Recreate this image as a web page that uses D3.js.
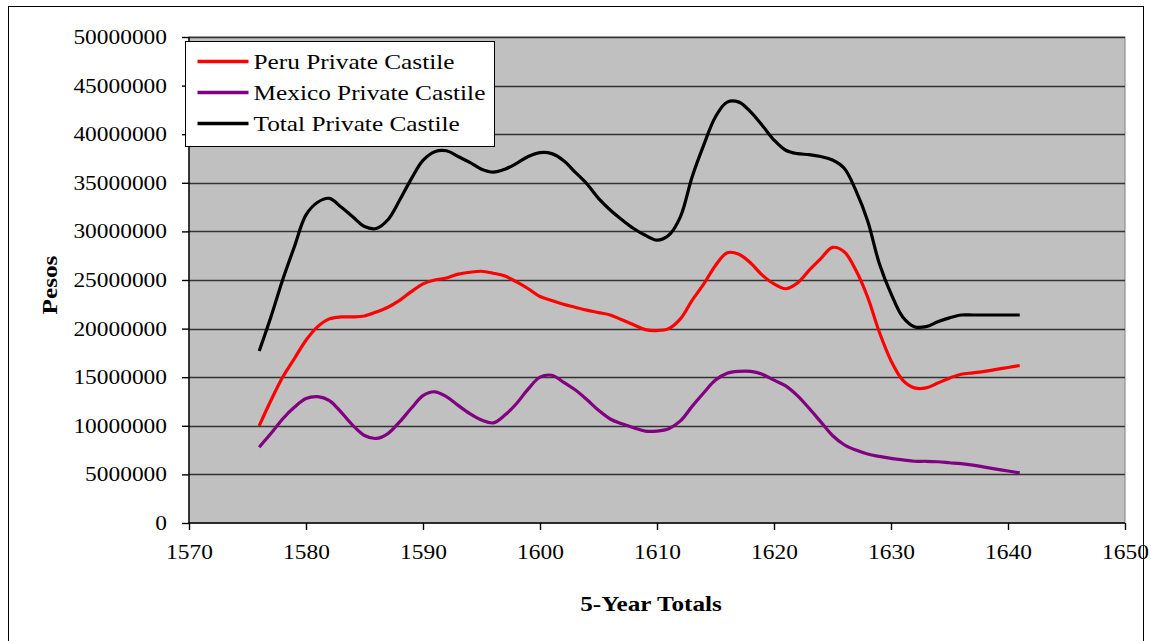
<!DOCTYPE html>
<html>
<head>
<meta charset="utf-8">
<script src="https://cdn.jsdelivr.net/npm/d3@7"></script>
<style>
  body { margin: 0; background: #fff; }
  svg text { font-family: "Liberation Serif", "Times New Roman", serif; }
</style>
</head>
<body>
<div class="chart"></div>
<script>
// 5-year totals, one point per year
var years = [1576, 1577, 1578, 1579, 1580, 1581, 1582, 1583, 1584, 1585,
             1586, 1587, 1588, 1589, 1590, 1591, 1592, 1593, 1594, 1595,
             1596, 1597, 1598, 1599, 1600, 1601, 1602, 1603, 1604, 1605,
             1606, 1607, 1608, 1609, 1610, 1611, 1612, 1613, 1614, 1615,
             1616, 1617, 1618, 1619, 1620, 1621, 1622, 1623, 1624, 1625,
             1626, 1627, 1628, 1629, 1630, 1631, 1632, 1633, 1634, 1635,
             1636, 1637, 1638, 1639, 1640, 1641];

var peru = [10000000, 12600000, 15000000, 16900000, 18800000, 20200000, 21000000, 21200000, 21200000, 21300000,
            21700000, 22200000, 22900000, 23800000, 24600000, 25000000, 25200000, 25600000, 25800000, 25900000,
            25700000, 25400000, 24800000, 24100000, 23300000, 22900000, 22500000, 22200000, 21900000, 21650000,
            21400000, 20900000, 20400000, 19900000, 19800000, 20000000, 21000000, 22900000, 24600000, 26500000,
            27800000, 27650000, 26750000, 25500000, 24600000, 24100000, 24700000, 26000000, 27200000, 28350000,
            27900000, 26000000, 23250000, 19650000, 16700000, 14700000, 13900000, 13900000, 14400000, 14900000,
            15300000, 15450000, 15600000, 15800000, 16000000, 16200000];

var mexico = [7800000, 9200000, 10700000, 11900000, 12800000, 13000000, 12600000, 11400000, 10050000, 9000000,
              8700000, 9200000, 10400000, 11800000, 13100000, 13500000, 13000000, 12100000, 11250000, 10600000,
              10300000, 11100000, 12300000, 13800000, 15000000, 15200000, 14500000, 13700000, 12700000, 11600000,
              10700000, 10200000, 9800000, 9460000, 9460000, 9700000, 10500000, 12000000, 13400000, 14700000,
              15400000, 15600000, 15600000, 15300000, 14700000, 14100000, 13100000, 11800000, 10400000, 9000000,
              8050000, 7500000, 7100000, 6850000, 6650000, 6500000, 6350000, 6350000, 6300000, 6200000,
              6100000, 5950000, 5750000, 5550000, 5350000, 5150000];

var total = [17700000, 21200000, 25000000, 28400000, 31700000, 33000000, 33400000, 32500000, 31500000, 30500000,
             30300000, 31200000, 33200000, 35400000, 37300000, 38200000, 38300000, 37700000, 37100000, 36400000,
             36100000, 36400000, 37000000, 37700000, 38100000, 38000000, 37300000, 36100000, 34900000, 33400000,
             32200000, 31200000, 30300000, 29600000, 29100000, 29600000, 31500000, 35600000, 38900000, 41800000,
             43300000, 43300000, 42300000, 40900000, 39400000, 38350000, 38000000, 37900000, 37700000, 37350000,
             36500000, 34200000, 31100000, 26700000, 23600000, 21200000, 20200000, 20200000, 20700000, 21100000,
             21400000, 21400000, 21400000, 21400000, 21400000, 21400000];

var seriesNames = ["Peru Private Castile", "Mexico Private Castile", "Total Private Castile"];
var seriesColors = ["#ff0000", "#800080", "#000000"];
var xTicks = [1570, 1580, 1590, 1600, 1610, 1620, 1630, 1640, 1650];
var yTicks = [0, 5000000, 10000000, 15000000, 20000000, 25000000, 30000000, 35000000, 40000000, 45000000, 50000000];

var svgWidth = 1151;
var svgHeight = 641;

var margin = {top: 37, right: 26, bottom: 118, left: 189};
var chartWidth = 1125 - margin.left;
var chartHeight = 523 - margin.top;

// the original text is a little wider than the font, so stretch it
function stretch(sel, k) {
  sel.each(function() {
    var w = this.getComputedTextLength();
    d3.select(this)
          .attr("textLength", w * k)
          .attr("lengthAdjust", "spacingAndGlyphs");
  });
}

var svg = d3.select("div.chart").append("svg")
      .attr("width", svgWidth)
      .attr("height", svgHeight);

// outer chart border
svg.append("rect")
      .attr("x", 8.5).attr("y", 6.5)
      .attr("width", 1135).attr("height", 660)
      .attr("fill", "#fff")
      .attr("stroke", "#000");

var chartGroup = svg.append("g")
      .attr("transform", `translate(${margin.left}, ${margin.top})`);

var xScale = d3.scaleLinear().domain([1570, 1650]).range([0, chartWidth]);
var yScale = d3.scaleLinear().domain([0, 50000000]).range([chartHeight, 0]);

// plot area
chartGroup.append("rect")
      .attr("width", chartWidth)
      .attr("height", chartHeight)
      .attr("fill", "#c0c0c0")
      .attr("stroke", "#808080");

// gridlines
chartGroup.selectAll("line.grid")
      .data(yTicks.slice(1))
      .enter()
      .append("line")
      .attr("class", "grid")
      .attr("x1", 0).attr("x2", chartWidth)
      .attr("y1", d => Math.round(yScale(d)) + 0.5)
      .attr("y2", d => Math.round(yScale(d)) + 0.5)
      .attr("stroke", "#333")
      .attr("stroke-width", 1.4);

// axes
var yAxis = d3.axisLeft(yScale).tickValues(yTicks).tickSize(7).tickPadding(15).tickFormat(d3.format("d"));
var xAxis = d3.axisBottom(xScale).tickValues(xTicks).tickSize(7).tickPadding(15).tickFormat(d3.format("d"));

var gy = chartGroup.append("g").call(yAxis);
var gx = chartGroup.append("g").attr("transform", `translate(0, ${chartHeight})`).call(xAxis);

[gx, gy].forEach(g => {
  g.attr("font-family", null).attr("font-size", null);
  g.select(".domain").attr("stroke", "#000").attr("stroke-width", 1.4);
  g.selectAll(".tick line").attr("stroke", "#000").attr("stroke-width", 1.4);
  g.selectAll(".tick text")
        .attr("fill", "#000")
        .style("font-size", "20px");
  stretch(g.selectAll(".tick text"), 1.17);
});
gy.select(".domain").attr("d", `M0,0V${chartHeight}`);
gx.select(".domain").attr("d", `M0,0H${chartWidth}`);

// lines
var allSeries = [peru, mexico, total];
var line = d3.line()
      .x((d, i) => xScale(years[i]))
      .y(d => yScale(d))
      .curve(d3.curveCatmullRom.alpha(0.5));

chartGroup.selectAll("path.series")
      .data(allSeries)
      .enter()
      .append("path")
      .attr("class", "series")
      .attr("d", d => line(d))
      .attr("fill", "none")
      .attr("stroke", (d, i) => seriesColors[i])
      .attr("stroke-width", 3.2)
      .attr("stroke-linejoin", "round");

// axis titles
var yTitle = svg.append("text")
      .attr("transform", "translate(57, 285) rotate(-90)")
      .attr("text-anchor", "middle")
      .style("font-size", "21px")
      .style("font-weight", "bold")
      .text("Pesos");

var xTitle = svg.append("text")
      .attr("x", 651)
      .attr("y", 611)
      .attr("text-anchor", "middle")
      .style("font-size", "21px")
      .style("font-weight", "bold")
      .text("5-Year Totals");

stretch(yTitle, 1.2);
stretch(xTitle, 1.2);

// legend
var legend = svg.append("g").attr("transform", "translate(185.5, 41.5)");
legend.append("rect")
      .attr("width", 309).attr("height", 105)
      .attr("fill", "#fff")
      .attr("stroke", "#000");

var rows = legend.selectAll("g.row")
      .data(seriesNames)
      .enter()
      .append("g")
      .attr("class", "row")
      .attr("transform", (d, i) => `translate(0, ${20 + i * 31})`);

rows.append("line")
      .attr("x1", 12).attr("x2", 63)
      .attr("stroke", (d, i) => seriesColors[i])
      .attr("stroke-width", 3.5);

var legendText = rows.append("text")
      .attr("x", 68)
      .attr("y", 7.5)
      .style("font-size", "22px")
      .text(d => d);
stretch(legendText, 1.15);
</script>
</body>
</html>
